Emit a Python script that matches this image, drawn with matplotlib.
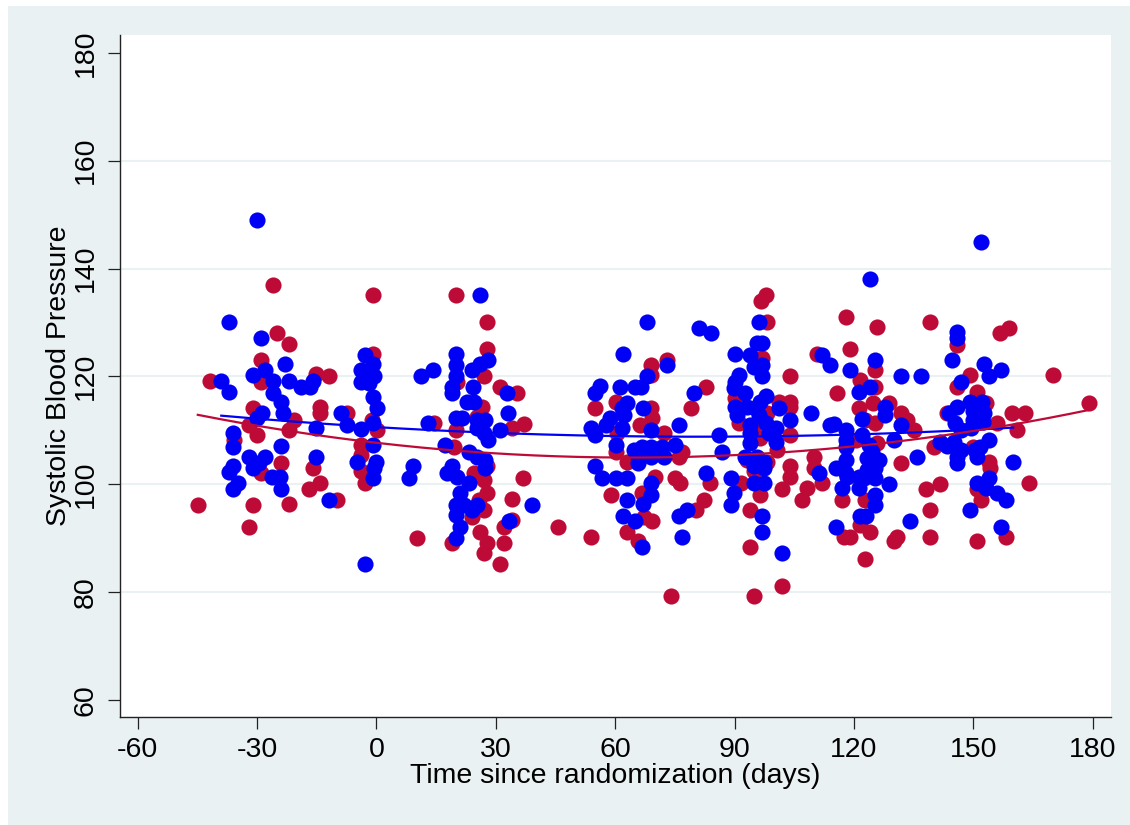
import numpy as np
import matplotlib
matplotlib.use("Agg")
import matplotlib.pyplot as plt
from matplotlib.patches import Rectangle

plt.rcParams['font.family'] = ['Liberation Sans', 'DejaVu Sans']
plt.rcParams['axes.unicode_minus'] = False

# (days since randomization, systolic BP)
red_points = [
    (-26.0, 137.0), (-25.0, 128.1), (-22.0, 126.1), (-28.9, 123.1), (-41.9, 119.2), (-28.9, 119.0),
    (-15.1, 120.5), (-12.0, 120.1), (-14.1, 114.4), (-14.1, 113.2), (-31.0, 114.1), (-32.1, 111.0),
    (-30.0, 109.1), (-35.9, 108.3), (-22.0, 110.1), (-20.8, 111.9), (-24.0, 104.0), (-15.9, 103.1),
    (-28.9, 102.0), (-17.0, 99.1), (-14.1, 100.2), (-9.9, 97.1), (-44.9, 96.2), (-31.0, 96.2),
    (-22.0, 96.3), (-32.1, 92.1), (-7.4, 113.2),
    (-0.9, 135.1), (20.1, 135.1), (27.8, 130.0), (27.8, 125.0), (-0.9, 124.1), (27.1, 120.0),
    (31.0, 118.1), (35.3, 117.0), (20.3, 119.0), (-1.1, 112.0), (0.2, 110.1), (14.4, 111.3),
    (26.6, 114.4), (25.3, 112.5), (37.0, 111.2), (34.1, 110.4), (20.1, 110.1), (-4.0, 107.3),
    (-3.9, 105.5), (-4.0, 102.4), (-2.8, 100.2), (19.4, 107.0), (24.5, 102.0), (27.8, 103.3),
    (27.0, 100.8), (27.8, 98.3), (25.7, 97.1), (27.0, 95.2), (24.0, 94.0), (34.1, 97.2),
    (36.8, 101.1), (34.1, 93.4), (32.0, 92.1), (32.0, 89.1), (26.1, 91.2), (27.8, 89.1),
    (27.0, 87.2), (31.0, 85.2), (19.0, 89.1), (10.1, 90.0), (45.7, 92.1),
    (69.1, 122.1), (73.1, 123.1), (68.9, 120.3), (82.9, 118.0), (55.0, 114.1), (60.1, 115.3),
    (68.9, 114.1), (69.3, 112.2), (79.1, 114.1), (66.3, 111.0), (72.2, 109.5), (60.5, 109.5),
    (60.1, 106.0), (76.8, 106.0), (76.0, 105.1), (62.9, 104.2), (70.1, 101.4), (75.1, 101.1),
    (76.4, 100.3), (83.9, 100.2), (59.0, 98.1), (66.8, 98.3), (82.3, 97.1), (80.2, 95.2),
    (69.3, 93.2), (67.2, 94.0), (62.9, 91.2), (65.8, 89.4), (54.0, 90.2), (73.9, 79.2),
    (97.8, 135.1), (96.7, 134.0), (98.2, 130.1), (96.9, 123.4), (104.0, 120.1), (110.7, 124.2),
    (90.2, 116.0), (101.1, 115.3), (104.0, 115.3), (104.0, 114.4), (98.2, 113.2), (91.0, 111.3),
    (94.8, 110.7), (104.0, 109.1), (100.7, 106.4), (96.5, 108.5), (93.1, 104.5), (98.2, 104.2),
    (109.9, 105.1), (109.9, 103.0), (104.0, 103.3), (104.0, 101.4), (112.0, 100.2), (91.5, 100.2),
    (94.8, 102.4), (96.5, 98.0), (102.0, 99.1), (108.3, 99.3), (107.0, 97.1), (94.0, 95.2),
    (94.0, 88.3), (102.0, 81.1), (95.0, 79.2),
    (117.9, 131.1), (125.8, 129.1), (139.1, 130.0), (119.0, 125.1), (125.2, 121.2), (121.6, 119.3),
    (115.8, 117.0), (125.2, 118.1), (121.2, 114.1), (124.8, 115.0), (128.7, 115.1), (131.7, 113.2),
    (133.4, 111.9), (135.1, 110.1), (143.4, 113.2), (125.4, 111.3), (122.9, 111.9), (125.8, 107.6),
    (120.4, 108.2), (140.1, 107.0), (131.7, 104.0), (117.0, 97.1), (122.9, 97.1), (138.0, 99.1),
    (141.7, 100.0), (139.2, 95.2), (121.6, 92.5), (124.0, 91.1), (117.4, 90.2), (119.1, 90.2),
    (130.0, 89.5), (130.9, 90.3), (139.1, 90.2), (122.9, 86.1),
    (156.8, 128.1), (158.9, 128.9), (146.0, 125.8), (149.1, 120.3), (145.9, 118.1), (151.0, 117.2),
    (170.0, 120.2), (179.0, 115.1), (153.1, 115.1), (159.7, 113.2), (163.1, 113.2), (156.0, 111.3),
    (161.0, 110.1), (149.8, 107.0), (154.0, 104.2), (154.3, 103.0), (164.0, 100.2), (151.0, 99.1),
    (152.0, 97.1), (151.0, 89.4), (158.1, 90.2),
]

blue_points = [
    (-30.0, 149.0), (-37.1, 130.0), (-28.9, 127.2), (-22.9, 122.3), (-39.0, 119.2), (-37.1, 117.1),
    (-31.0, 120.2), (-27.9, 121.2), (-26.0, 119.2), (-26.0, 117.0), (-24.1, 115.2), (-23.4, 113.2),
    (-22.0, 119.2), (-18.9, 118.1), (-16.8, 118.1), (-15.9, 119.2), (-8.9, 113.2), (-7.4, 111.0),
    (-28.7, 113.2), (-30.0, 112.3), (-36.1, 109.5), (-36.1, 107.0), (-15.1, 110.5), (-24.0, 107.1),
    (-32.1, 105.1), (-27.9, 105.1), (-29.6, 103.9), (-31.0, 103.1), (-36.1, 103.3), (-37.1, 102.2),
    (-26.2, 101.4), (-24.3, 101.4), (-34.9, 100.2), (-36.1, 99.1), (-24.0, 99.1), (-15.1, 105.1),
    (-12.0, 97.1),
    (26.1, 135.1), (-2.8, 124.0), (-0.9, 122.3), (-3.9, 121.2), (-4.0, 119.0), (-0.7, 120.1),
    (-1.9, 118.7), (-0.9, 116.2), (0.2, 114.1), (11.1, 120.1), (14.1, 121.2), (20.1, 124.1),
    (20.1, 122.1), (20.1, 120.0), (19.0, 118.1), (19.0, 117.0), (24.0, 121.2), (26.1, 122.3),
    (28.0, 123.1), (24.2, 118.1), (22.8, 115.2), (24.5, 115.2), (32.8, 117.0), (33.0, 113.2),
    (31.0, 110.1), (-4.0, 110.2), (-0.9, 111.3), (-0.9, 107.2), (-4.8, 104.2), (0.0, 104.2),
    (-0.7, 103.0), (-0.9, 101.1), (12.9, 111.3), (9.2, 103.3), (8.1, 101.1), (19.9, 112.2),
    (21.5, 112.2), (25.3, 112.0), (27.4, 112.0), (25.3, 110.4), (27.0, 109.5), (28.0, 108.3),
    (17.3, 107.3), (23.2, 106.0), (25.3, 105.1), (27.4, 104.5), (27.4, 103.0), (17.7, 102.0),
    (19.0, 103.3), (20.3, 101.4), (23.2, 100.2), (21.1, 98.3), (19.9, 96.2), (21.9, 96.2),
    (24.0, 95.2), (25.3, 96.2), (19.9, 94.3), (21.1, 92.1), (20.1, 90.0), (33.2, 93.1),
    (39.1, 96.2), (-2.8, 85.2),
    (68.0, 130.0), (81.0, 128.9), (84.1, 128.1), (62.0, 124.1), (73.1, 122.1), (90.0, 124.1),
    (68.0, 120.1), (56.1, 118.2), (55.0, 117.0), (61.2, 118.0), (65.1, 118.1), (66.5, 118.0),
    (79.9, 117.0), (62.9, 115.0), (61.7, 114.1), (67.0, 114.1), (58.8, 112.2), (57.8, 111.0),
    (62.2, 112.8), (53.8, 110.4), (55.0, 109.1), (61.7, 110.4), (68.9, 110.1), (76.0, 111.0),
    (86.1, 109.1), (60.1, 107.3), (64.7, 106.4), (66.8, 107.0), (68.9, 107.0), (71.8, 107.0),
    (75.1, 107.3), (65.8, 105.1), (68.9, 105.1), (72.2, 105.1), (65.8, 103.9), (86.8, 106.0),
    (55.0, 103.3), (56.7, 101.1), (60.1, 101.1), (62.9, 101.1), (82.9, 102.1), (89.0, 101.1),
    (69.1, 100.3), (69.1, 98.0), (67.0, 96.4), (62.9, 97.1), (89.8, 98.3), (89.0, 96.2),
    (62.0, 94.1), (65.1, 93.2), (76.0, 94.1), (78.1, 95.2), (66.8, 88.3), (76.8, 90.2),
    (96.1, 130.0), (96.9, 126.2), (95.6, 126.2), (94.0, 124.0), (96.9, 122.1), (94.8, 121.8),
    (96.9, 120.0), (112.0, 124.0), (91.0, 120.3), (90.2, 119.0), (89.8, 117.8), (92.7, 116.9),
    (97.8, 116.3), (96.5, 115.3), (90.2, 114.4), (93.1, 114.4), (95.2, 114.1), (101.1, 114.1),
    (90.6, 112.9), (96.1, 112.9), (104.0, 112.0), (109.1, 113.2), (114.1, 111.0), (94.0, 111.0),
    (97.8, 111.3), (100.3, 110.4), (94.0, 109.5), (98.6, 109.5), (94.0, 107.6), (100.3, 107.9),
    (92.7, 105.1), (95.6, 105.1), (97.4, 104.2), (94.8, 103.3), (97.4, 103.0), (111.2, 102.1),
    (94.8, 100.2), (97.4, 100.2), (96.9, 94.1), (96.9, 91.1), (102.0, 87.2),
    (124.0, 138.0), (114.1, 122.1), (119.1, 121.2), (125.2, 123.1), (131.7, 120.1), (136.9, 120.1),
    (144.6, 123.1), (124.1, 118.1), (121.2, 117.2), (127.9, 114.4), (127.9, 112.9), (122.0, 112.1),
    (131.7, 111.0), (114.9, 111.1), (118.1, 110.1), (122.0, 109.1), (123.7, 107.3), (117.9, 108.2),
    (130.0, 108.2), (141.7, 107.9), (143.4, 107.1), (117.9, 107.0), (117.9, 104.5), (124.6, 106.0),
    (126.3, 104.5), (123.3, 104.8), (115.6, 103.0), (117.9, 102.1), (125.4, 103.0), (123.3, 102.7),
    (121.2, 101.3), (135.9, 105.1), (118.3, 101.3), (125.4, 101.1), (122.5, 101.1), (128.7, 100.0),
    (117.0, 99.3), (121.2, 99.3), (125.2, 98.0), (125.2, 96.2), (121.5, 94.1), (123.1, 94.1),
    (115.6, 92.1), (134.0, 93.1),
    (152.0, 145.0), (146.0, 128.3), (146.0, 127.1), (152.8, 122.3), (157.0, 121.1), (153.9, 120.1),
    (146.8, 119.0), (146.0, 114.4), (149.1, 115.3), (152.2, 115.3), (143.8, 113.2), (149.8, 113.5),
    (152.8, 113.2), (145.5, 111.3), (149.8, 111.9), (152.4, 111.6), (146.8, 110.1), (149.4, 110.4),
    (145.1, 107.9), (154.0, 108.2), (151.8, 107.0), (146.8, 106.4), (150.5, 106.4), (146.0, 105.1),
    (151.0, 105.0), (146.0, 103.9), (160.0, 104.1), (154.0, 101.1), (151.0, 100.2), (153.1, 99.3),
    (156.0, 98.3), (158.1, 97.1), (149.1, 95.2), (157.0, 92.1),
]

x_ticks = [-60, -30, 0, 30, 60, 90, 120, 150, 180]
y_ticks = [60, 80, 100, 120, 140, 160, 180]

RED = '#BE0A36'
BLUE = '#0000F5'
PANEL = '#EAF1F3'

red = np.array(red_points)
blue = np.array(blue_points)

fig = plt.figure(figsize=(11.3, 8.25), dpi=100)
fig.patch.set_facecolor('white')
fig.patches.append(Rectangle((8 / 1130, 0), 1, 1 - 6 / 825, transform=fig.transFigure,
                             facecolor=PANEL, edgecolor='none', zorder=-10))

ax = fig.add_axes([120 / 1130, 1 - 717 / 825, 991 / 1130, 682 / 825])
ax.set_facecolor('white')

for yv in y_ticks[1:-1]:
    ax.axhline(yv, color=PANEL, lw=1.5, zorder=1)

ax.scatter(red[:, 0], red[:, 1], s=135, color=RED, lw=0, zorder=2)
ax.scatter(blue[:, 0], blue[:, 1], s=135, color=BLUE, lw=0, zorder=3)

# quadratic fits, like Stata's qfit
for pts, col in [(blue, BLUE), (red, RED)]:
    c = np.polyfit(pts[:, 0], pts[:, 1], 2)
    xs = np.linspace(pts[:, 0].min(), pts[:, 0].max(), 200)
    ax.plot(xs, np.polyval(c, xs), color=col, lw=1.6, zorder=4)

ax.set_xlim(-64.45, 184.6)
ax.set_ylim(56.85, 183.3)
ax.set_xticks(x_ticks)
ax.set_yticks(y_ticks)
ax.set_yticklabels([str(v) for v in y_ticks], rotation=90, va='center')

for side in ['top', 'right']:
    ax.spines[side].set_visible(False)
for side in ['left', 'bottom']:
    ax.spines[side].set_color('#222222')
    ax.spines[side].set_linewidth(1.0)

ax.tick_params(axis='both', direction='out', length=8.5, width=0.9, color='#222222',
               labelsize=20.5, pad=6)
ax.tick_params(axis='y', pad=7)

ax.set_xlabel('Time since randomization (days)', fontsize=20.5, labelpad=0)
ax.set_ylabel('Systolic Blood Pressure', fontsize=20.5, labelpad=0)

fig.savefig('out.png', dpi=100, facecolor=fig.get_facecolor())
